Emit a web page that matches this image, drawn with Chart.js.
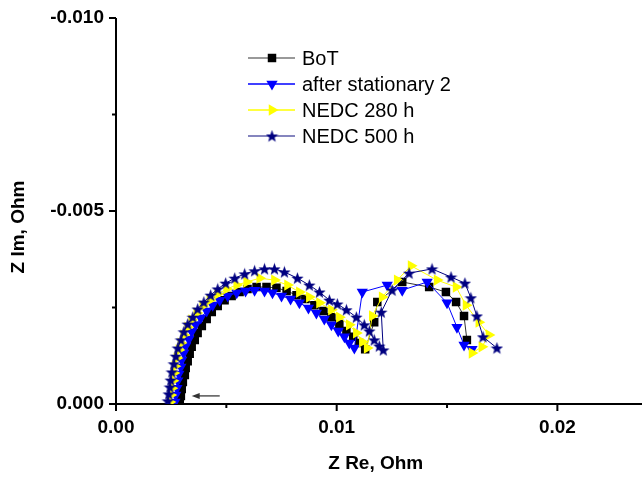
<!DOCTYPE html>
<html>
<head>
<meta charset="utf-8">
<script src="https://cdn.jsdelivr.net/npm/chart.js@4.4.1/dist/chart.umd.min.js"></script>
<style>
  html, body { margin: 0; padding: 0; background: #fff; overflow: hidden; }
</style>
</head>
<body>
<canvas id="nyquistChart" width="642" height="477"></canvas>
<script>
const FONT = 'Arial, "Liberation Sans", sans-serif';

const seriesNames = ['BoT', 'after stationary 2', 'NEDC 280 h', 'NEDC 500 h'];

// Z Re / Z Im in Ohm
const botRe = [0.00289, 0.00294, 0.00298, 0.00303, 0.00312, 0.00316, 0.00325, 0.00334, 0.00343, 0.00357,
  0.00370, 0.00389, 0.00411, 0.00434, 0.00461, 0.00492, 0.00524, 0.00560, 0.00596, 0.00637,
  0.00682, 0.00727, 0.00773, 0.00818, 0.00858, 0.00899, 0.00940, 0.00976, 0.01012, 0.01044,
  0.01075, 0.01102, 0.01129, 0.01170, 0.01184, 0.01297, 0.01419, 0.01495, 0.01541, 0.01577, 0.01590];
const botIm = [-0.00005, -0.00021, -0.00039, -0.00057, -0.00075, -0.00093, -0.00111, -0.00130, -0.00148, -0.00166,
  -0.00184, -0.00202, -0.00220, -0.00238, -0.00254, -0.00269, -0.00280, -0.00290, -0.00298, -0.00303,
  -0.00303, -0.00301, -0.00293, -0.00282, -0.00272, -0.00256, -0.00241, -0.00225, -0.00207, -0.00189,
  -0.00174, -0.00158, -0.00142, -0.00212, -0.00264, -0.00316, -0.00303, -0.00290, -0.00264, -0.00228, -0.00166];

const statRe = [0.00267, 0.00271, 0.00276, 0.00280, 0.00285, 0.00294, 0.00298, 0.00307, 0.00316, 0.00330,
  0.00343, 0.00361, 0.00384, 0.00411, 0.00438, 0.00470, 0.00506, 0.00547, 0.00587, 0.00628,
  0.00673, 0.00709, 0.00750, 0.00791, 0.00831, 0.00872, 0.00908, 0.00944, 0.00976, 0.01007,
  0.01035, 0.01057, 0.01080, 0.01116, 0.01229, 0.01297, 0.01410, 0.01500, 0.01545, 0.01577, 0.01613];
const statIm = [-0.00005, -0.00023, -0.00041, -0.00060, -0.00078, -0.00096, -0.00114, -0.00132, -0.00150, -0.00168,
  -0.00187, -0.00205, -0.00223, -0.00241, -0.00256, -0.00269, -0.00280, -0.00288, -0.00293, -0.00295,
  -0.00293, -0.00288, -0.00280, -0.00272, -0.00262, -0.00249, -0.00236, -0.00220, -0.00205, -0.00189,
  -0.00174, -0.00158, -0.00145, -0.00290, -0.00308, -0.00295, -0.00316, -0.00262, -0.00199, -0.00153, -0.00142];

const nedc280Re = [0.00244, 0.00248, 0.00253, 0.00258, 0.00262, 0.00267, 0.00276, 0.00285, 0.00294, 0.00307,
  0.00325, 0.00343, 0.00366, 0.00393, 0.00425, 0.00461, 0.00501, 0.00547, 0.00592, 0.00651,
  0.00718, 0.00777, 0.00831, 0.00876, 0.00922, 0.00976, 0.01012, 0.01057, 0.01089, 0.01116,
  0.01138, 0.01161, 0.01206, 0.01274, 0.01337, 0.01455, 0.01541, 0.01586, 0.01644, 0.01690, 0.01658, 0.01613];
const nedc280Im = [-0.00005, -0.00023, -0.00041, -0.00060, -0.00080, -0.00098, -0.00119, -0.00140, -0.00158, -0.00179,
  -0.00199, -0.00218, -0.00236, -0.00254, -0.00269, -0.00285, -0.00298, -0.00308, -0.00316, -0.00326,
  -0.00321, -0.00308, -0.00290, -0.00277, -0.00262, -0.00244, -0.00225, -0.00205, -0.00184, -0.00161,
  -0.00145, -0.00228, -0.00277, -0.00321, -0.00358, -0.00321, -0.00303, -0.00256, -0.00212, -0.00179, -0.00148, -0.00132];

const nedc500Re = [0.00235, 0.00239, 0.00244, 0.00248, 0.00253, 0.00262, 0.00271, 0.00280, 0.00294, 0.00307,
  0.00325, 0.00348, 0.00370, 0.00398, 0.00429, 0.00461, 0.00497, 0.00538, 0.00583, 0.00628,
  0.00673, 0.00718, 0.00763, 0.00822, 0.00876, 0.00922, 0.00967, 0.01003, 0.01044, 0.01089,
  0.01125, 0.01148, 0.01170, 0.01193, 0.01211, 0.01202, 0.01251, 0.01328, 0.01432, 0.01518,
  0.01581, 0.01608, 0.01635, 0.01663, 0.01726];
const nedc500Im = [-0.00008, -0.00026, -0.00044, -0.00062, -0.00083, -0.00104, -0.00124, -0.00145, -0.00166, -0.00187,
  -0.00207, -0.00225, -0.00246, -0.00264, -0.00282, -0.00298, -0.00313, -0.00326, -0.00337, -0.00345,
  -0.00350, -0.00350, -0.00342, -0.00326, -0.00308, -0.00290, -0.00269, -0.00259, -0.00244, -0.00225,
  -0.00205, -0.00189, -0.00166, -0.00150, -0.00140, -0.00238, -0.00295, -0.00339, -0.00350, -0.00329,
  -0.00313, -0.00275, -0.00228, -0.00174, -0.00145];

const xTicks = [0, 0.01, 0.02];
const xMinorTicks = [0.005, 0.015];
const yTicks = [0, -0.005, -0.010];
const yMinorTicks = [-0.0025, -0.0075];

// little arrow near the high frequency end
const arrowRe = [0.00470, 0.00343];
const arrowIm = -0.00021;

function toPoints(re, im) {
  return re.map((v, i) => ({ x: v, y: im[i] }));
}

function makeStar(size, color) {
  const c = document.createElement('canvas');
  c.width = size;
  c.height = size;
  const g = c.getContext('2d');
  const R = size / 2, r = R * 0.42;
  g.beginPath();
  for (let i = 0; i < 10; i++) {
    const a = -Math.PI / 2 + i * Math.PI / 5;
    const rr = i % 2 ? r : R;
    g.lineTo(R + rr * Math.cos(a), R + 0.6 + rr * Math.sin(a));
  }
  g.closePath();
  g.fillStyle = color;
  g.fill();
  return c;
}

const starImg = makeStar(13, '#000080');

const styles = [
  { line: '#333333', legendLine: '#777777', fill: '#000000', pointStyle: 'rect', radius: 6, rotation: 0 },
  { line: '#0000ff', legendLine: '#0000ff', fill: '#0000ff', pointStyle: 'triangle', radius: 6.5, rotation: 180 },
  { line: '#ffff00', legendLine: '#ffff00', fill: '#ffff00', pointStyle: 'triangle', radius: 6.5, rotation: 90 },
  { line: '#000080', legendLine: '#5c5ca8', fill: '#000080', pointStyle: starImg, radius: 6, rotation: 0 }
];

const seriesData = [
  toPoints(botRe, botIm),
  toPoints(statRe, statIm),
  toPoints(nedc280Re, nedc280Im),
  toPoints(nedc500Re, nedc500Im)
];

const tickFont = { family: FONT, size: 19, weight: 'bold' };

const axisPlugin = {
  id: 'axisPlugin',
  beforeDatasetsDraw(chart) {
    const { ctx, chartArea: area, scales: { x, y } } = chart;
    ctx.save();
    ctx.strokeStyle = '#000';
    ctx.lineWidth = 2;
    ctx.beginPath();
    ctx.moveTo(area.left, area.top);
    ctx.lineTo(area.left, area.bottom);
    ctx.lineTo(chart.width, area.bottom);
    ctx.stroke();

    ctx.beginPath();
    xTicks.forEach(v => { const px = x.getPixelForValue(v); ctx.moveTo(px, area.bottom); ctx.lineTo(px, area.bottom + 7); });
    xMinorTicks.forEach(v => { const px = x.getPixelForValue(v); ctx.moveTo(px, area.bottom); ctx.lineTo(px, area.bottom + 4); });
    yTicks.forEach(v => { const py = y.getPixelForValue(v); ctx.moveTo(area.left, py); ctx.lineTo(area.left - 7, py); });
    yMinorTicks.forEach(v => { const py = y.getPixelForValue(v); ctx.moveTo(area.left, py); ctx.lineTo(area.left - 4, py); });
    ctx.stroke();
    ctx.restore();
  },
  afterDraw(chart) {
    const { ctx, scales: { x, y } } = chart;
    const helpers = Chart.helpers;
    ctx.save();

    // y axis title
    ctx.fillStyle = '#000';
    ctx.font = 'bold 19px ' + FONT;
    ctx.textAlign = 'center';
    ctx.textBaseline = 'middle';
    ctx.translate(19, 227);
    ctx.rotate(-Math.PI / 2);
    ctx.fillText('Z Im, Ohm', 0, 0);
    ctx.setTransform(1, 0, 0, 1, 0, 0);

    // arrow
    const ax0 = x.getPixelForValue(arrowRe[0]);
    const ax1 = x.getPixelForValue(arrowRe[1]);
    const ay = y.getPixelForValue(arrowIm);
    ctx.strokeStyle = '#555';
    ctx.fillStyle = '#333';
    ctx.lineWidth = 1.5;
    ctx.beginPath();
    ctx.moveTo(ax0, ay);
    ctx.lineTo(ax1 + 5, ay);
    ctx.stroke();
    ctx.beginPath();
    ctx.moveTo(ax1, ay);
    ctx.lineTo(ax1 + 8, ay - 3);
    ctx.lineTo(ax1 + 8, ay + 3);
    ctx.closePath();
    ctx.fill();

    // legend
    const rows = [58, 84, 110, 136];
    ctx.font = '20px ' + FONT;
    ctx.textAlign = 'left';
    ctx.textBaseline = 'middle';
    seriesNames.forEach((name, i) => {
      const s = styles[i];
      const ry = rows[i];
      ctx.strokeStyle = s.legendLine;
      ctx.lineWidth = 1.5;
      ctx.beginPath();
      ctx.moveTo(248, ry);
      ctx.lineTo(295, ry);
      ctx.stroke();
      ctx.fillStyle = s.fill;
      ctx.strokeStyle = s.fill;
      helpers.drawPoint(ctx, { pointStyle: s.pointStyle, rotation: s.rotation, radius: s.radius, borderWidth: 0 }, 272, ry);
      ctx.fillStyle = '#000';
      ctx.fillText(name, 302, ry + 1);
    });
    ctx.restore();
  }
};

new Chart(document.getElementById('nyquistChart'), {
  type: 'scatter',
  data: {
    datasets: seriesData.map((pts, i) => ({
      label: seriesNames[i],
      data: pts,
      showLine: true,
      tension: 0,
      borderColor: styles[i].line,
      borderWidth: 1,
      pointStyle: styles[i].pointStyle,
      pointRotation: styles[i].rotation,
      pointRadius: styles[i].radius,
      pointBackgroundColor: styles[i].fill,
      pointBorderColor: styles[i].fill,
      pointBorderWidth: 0,
      order: 4 - i
    }))
  },
  options: {
    responsive: false,
    animation: false,
    devicePixelRatio: 1,
    layout: { padding: { top: 18, right: 0, bottom: 0, left: 0 } },
    plugins: {
      legend: { display: false },
      tooltip: { enabled: false }
    },
    scales: {
      x: {
        type: 'linear',
        min: 0,
        max: 0.02354,
        afterBuildTicks: s => { s.ticks = xTicks.map(v => ({ value: v })); },
        afterFit: s => { s.height = 73; },
        grid: { display: false, drawTicks: true, tickLength: 7 },
        border: { display: false },
        ticks: { padding: 5, color: '#000', font: tickFont, maxRotation: 0, callback: v => v.toFixed(2) },
        title: { display: true, text: 'Z Re, Ohm', color: '#000', font: tickFont, padding: { top: 4, bottom: 2 } }
      },
      y: {
        type: 'linear',
        min: -0.010,
        max: 0,
        reverse: true,
        afterBuildTicks: s => { s.ticks = yTicks.map(v => ({ value: v })); },
        afterFit: s => { s.width = 116; },
        grid: { display: false, drawTicks: true, tickLength: 7 },
        border: { display: false },
        ticks: { padding: 5, color: '#000', font: tickFont, callback: v => v.toFixed(3) }
      }
    }
  },
  plugins: [axisPlugin]
});
</script>
</body>
</html>
